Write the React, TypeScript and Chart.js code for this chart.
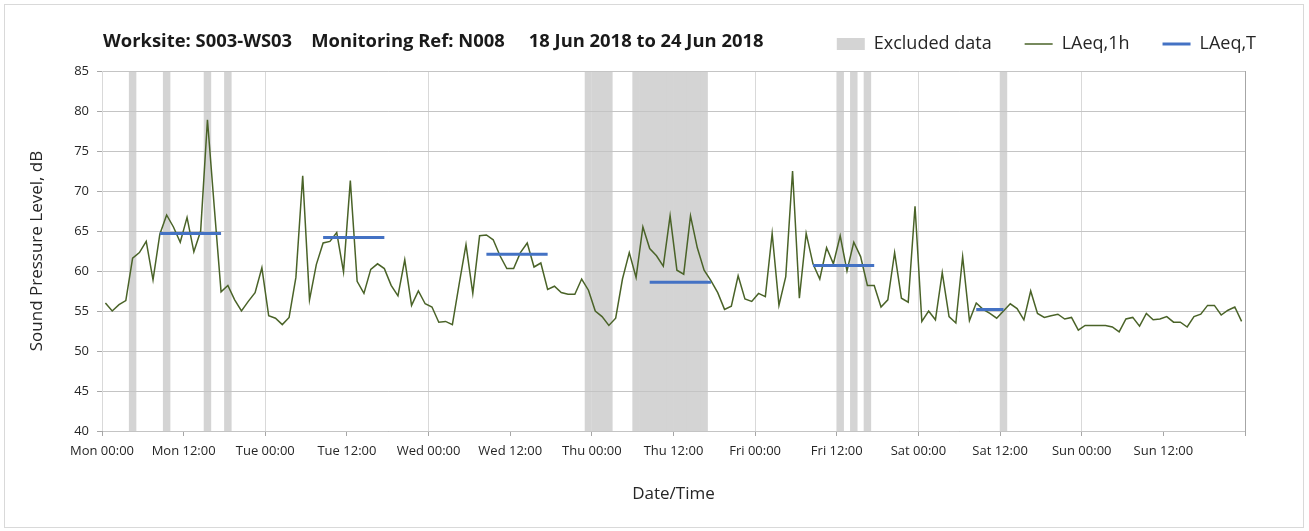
import React, { useEffect, useRef } from 'react';
import { Chart, registerables } from 'chart.js';

Chart.register(...registerables);

// Hourly LAeq,1h values (dB), one per hour from Mon 00:00 to Sun 23:00
const laeq1h: number[] = [
  56.0, 55.0, 55.8, 56.3, 61.6, 62.3, 63.7, 58.9, 64.6, 67.0, 65.5, 63.6, 66.7, 62.4, 65.0, 78.9, 68.0, 57.4, 58.2, 56.4, 55.0, 56.2, 57.3, 60.4, 54.4, 54.1, 53.3, 54.2,
  59.2, 71.9, 56.4, 60.8, 63.5, 63.7, 64.8, 59.9, 71.3, 58.7, 57.2, 60.2, 60.9, 60.3, 58.2, 56.9, 61.4, 55.7, 57.5, 55.9, 55.5, 53.6, 53.7, 53.3, 58.4, 63.3, 57.2, 64.4,
  64.5, 63.9, 61.9, 60.3, 60.3, 62.3, 63.5, 60.5, 61.0, 57.7, 58.1, 57.3, 57.1, 57.1, 59.0, 57.6, 55.0, 54.3, 53.2, 54.1, 59.0, 62.3, 59.2, 65.5, 62.8, 61.9, 60.6, 66.9,
  60.1, 59.6, 66.9, 62.9, 60.1, 58.8, 57.3, 55.2, 55.6, 59.4, 56.5, 56.2, 57.2, 56.8, 64.7, 55.7, 59.3, 72.5, 56.6, 64.7, 60.9, 59.0, 62.9, 60.9, 64.4, 60.0, 63.6, 61.8,
  58.2, 58.2, 55.5, 56.4, 62.3, 56.6, 56.1, 68.1, 53.7, 55.0, 53.9, 59.8, 54.3, 53.5, 61.8, 53.8, 56.0, 55.2, 54.7, 54.1, 55.0, 55.9, 55.3, 53.9, 57.5, 54.7, 54.2, 54.4,
  54.6, 54.0, 54.2, 52.6, 53.2, 53.2, 53.2, 53.2, 53.0, 52.4, 54.0, 54.2, 53.1, 54.7, 53.9, 54.0, 54.3, 53.6, 53.6, 53.0, 54.3, 54.6, 55.7, 55.7, 54.5, 55.1, 55.5, 53.7,
];

// Hours (from Mon 00:00) whose data is excluded
const excludedHours: number[] = [4, 9, 15, 18, 71, 72, 73, 74, 78, 79, 80, 81, 82, 83, 84, 85, 86, 87, 88, 108, 110, 112, 132];

// LAeq,T periods: first hour, last hour, level
const periodStart: number[] = [8, 32, 56, 80, 104, 128];
const periodEnd: number[] = [17, 41, 65, 89, 113, 132];
const periodLevel: number[] = [64.7, 64.2, 62.1, 58.6, 60.7, 55.2];

const xTickLabels: string[] = [
  'Mon 00:00', 'Mon 12:00', 'Tue 00:00', 'Tue 12:00', 'Wed 00:00', 'Wed 12:00', 'Thu 00:00',
  'Thu 12:00', 'Fri 00:00', 'Fri 12:00', 'Sat 00:00', 'Sat 12:00', 'Sun 00:00', 'Sun 12:00', '',
];
const xTickStep = 12;
const totalHours = 168;
const yMin = 40;
const yMax = 85;
const yStep = 5;

const FONT = "'Open Sans', sans-serif";
const TEXT = '#262626';

export default function App() {
  const ref = useRef<HTMLCanvasElement | null>(null);

  useEffect(() => {
    if (!ref.current) return;
    const lineData = laeq1h.map((v, i) => ({ x: i + 0.5, y: v }));
    const bandData = excludedHours.map((h) => ({ x: h + 0.5, y: [yMin, yMax] }));
    const periodData: { x: number; y: number | null }[] = [];
    periodStart.forEach((s, k) => {
      periodData.push({ x: s + 0.5, y: periodLevel[k] });
      periodData.push({ x: periodEnd[k] + 0.5, y: periodLevel[k] });
      periodData.push({ x: periodEnd[k] + 0.6, y: null });
    });

    const gridOverBands = {
      id: 'gridOverBands',
      afterDatasetDraw(chart: any, args: any) {
        if (args.index === 0) {
          chart.scales.x.drawGrid(chart.chartArea);
          chart.scales.y.drawGrid(chart.chartArea);
        }
      },
    };

    const chart = new Chart(ref.current, {
      type: 'line',
      data: {
        datasets: [
          {
            type: 'bar',
            label: 'Excluded data',
            data: bandData as any,
            backgroundColor: '#d4d4d4',
            borderWidth: 0,
            barPercentage: 1,
            categoryPercentage: 1,
            pointStyle: 'rect',
            order: 3,
          } as any,
          {
            type: 'line',
            label: 'LAeq,1h',
            data: lineData,
            borderColor: '#4A6328',
            backgroundColor: '#4A6328',
            borderWidth: 1.5,
            pointRadius: 0,
            pointStyle: 'line',
            tension: 0,
            order: 2,
          },
          {
            type: 'line',
            label: 'LAeq,T',
            data: periodData as any,
            borderColor: '#4472C4',
            backgroundColor: '#4472C4',
            borderWidth: 3,
            pointRadius: 0,
            pointStyle: 'line',
            spanGaps: false,
            order: 1,
          },
        ],
      },
      options: {
        responsive: false,
        animation: false,
        devicePixelRatio: 1,
        layout: { padding: { top: 2, right: 20, bottom: 0, left: 0 } },
        font: { family: FONT },
        plugins: {
          title: { display: false },
          tooltip: { enabled: false },
          legend: {
            display: true,
            position: 'top',
            align: 'end',
            labels: {
              usePointStyle: true,
              pointStyleWidth: 28,
              boxHeight: 12,
              padding: 33,
              color: TEXT,
              font: { family: FONT, size: 18 },
              sort: (a: any, b: any) => a.datasetIndex - b.datasetIndex,
            },
          },
        },
        scales: {
          x: {
            type: 'linear',
            min: 0,
            max: totalHours,
            offset: false,
            ticks: {
              stepSize: xTickStep,
              autoSkip: false,
              maxRotation: 0,
              padding: 7,
              color: TEXT,
              font: { family: FONT, size: 13 },
              callback: (v: any) => xTickLabels[Math.round(Number(v) / xTickStep)] ?? '',
            },
            grid: {
              offset: false,
              color: (ctx: any) => {
                const v = ctx.tick ? ctx.tick.value : -1;
                if (v === totalHours) return '#a6a6a6';
                return v % 24 === 0 ? '#d9d9d9' : 'rgba(0,0,0,0)';
              },
              tickColor: '#a6a6a6',
              tickLength: 5,
              lineWidth: 1,
            },
            border: { color: '#a6a6a6', width: 1 },
            title: {
              display: true,
              text: 'Date/Time',
              color: TEXT,
              font: { family: FONT, size: 17 },
              padding: { top: 0, bottom: 27 },
            },
            afterFit: (s: any) => { s.height = 100; },
          },
          xTop: {
            type: 'linear',
            position: 'top',
            display: true,
            min: 0,
            max: 1,
            grid: { display: false },
            ticks: { display: false },
            border: { display: false },
            afterFit: (s: any) => { s.height = 8; },
          },
          y: {
            type: 'linear',
            min: yMin,
            max: yMax,
            ticks: {
              stepSize: yStep,
              padding: 8,
              color: TEXT,
              font: { family: FONT, size: 13 },
            },
            grid: { color: '#c4c4c4', tickColor: '#a6a6a6', tickLength: 5, lineWidth: 1 },
            border: { color: '#a6a6a6', width: 1 },
            title: {
              display: true,
              text: 'Sound Pressure Level, dB',
              color: TEXT,
              font: { family: FONT, size: 17 },
              padding: { top: 27, bottom: 0 },
            },
            afterFit: (s: any) => { s.width = 102; },
          },
          yRight: {
            type: 'linear',
            position: 'right',
            display: true,
            min: 0,
            max: 1,
            grid: { display: false },
            ticks: { display: false },
            border: { display: false },
            afterFit: (s: any) => { s.width = 44; },
          },
        },
      } as any,
      plugins: [gridOverBands],
    });
    return () => chart.destroy();
  }, []);

  return (
    <div style={{ position: 'absolute', left: 0, top: 0, width: 1309, height: 531, background: '#fff' }}>
      <canvas ref={ref} width={1309} height={531} style={{ position: 'absolute', left: 0, top: 0 }} />
      <div
        style={{
          position: 'absolute', left: 103, top: 28, whiteSpace: 'pre', fontFamily: FONT,
          fontWeight: 700, fontSize: 18.4, lineHeight: '24px', color: '#1a1a1a',
        }}
      >
        {'Worksite: S003-WS03    Monitoring Ref: N008     18 Jun 2018 to 24 Jun 2018'}
      </div>
      <div
        style={{
          position: 'absolute', left: 4, top: 4, width: 1298, height: 522,
          border: '1px solid #d9d9d9', pointerEvents: 'none',
        }}
      />
    </div>
  );
}
